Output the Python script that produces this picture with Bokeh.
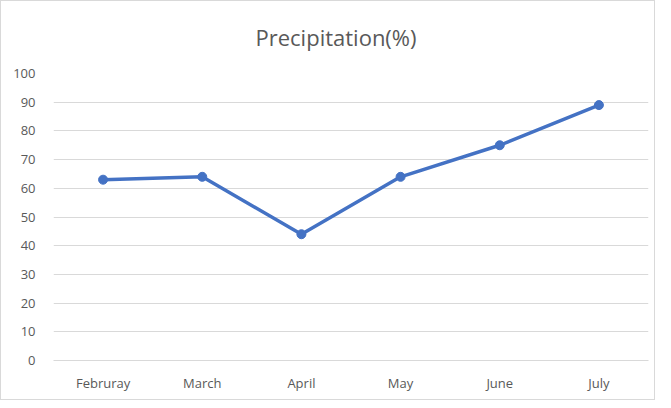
from bokeh.plotting import figure
from bokeh.embed import file_html
from bokeh.resources import INLINE
from bokeh.models import Range1d, FactorRange, FixedTicker, Title

months = ["Februray", "March", "April", "May", "June", "July"]
precip = [63, 64, 44, 64, 75, 89]
y_ticks = [0, 10, 20, 30, 40, 50, 60, 70, 80, 90, 100]

FONT = "Open Sans"
TXT = "#595959"

p = figure(width=655, height=400, x_range=FactorRange(*months, range_padding=0),
           y_range=Range1d(0, 100), output_backend="svg", toolbar_location=None,
           min_border_left=52, min_border_right=8, min_border_top=72, min_border_bottom=41)
p.styles = {"border": "1px solid #d9d9d9"}
p.outline_line_color = None
p.background_fill_color = "white"
p.border_fill_color = "white"

t = Title(text="Precipitation(%)", align="left", vertical_align="top", text_font=FONT,
          text_font_size="22px", text_font_style="normal", text_color=TXT,
          offset=202, standoff=40)
p.add_layout(t, "above")

p.line(months, precip, line_color="#4472C4", line_width=3.5)
p.scatter(months, precip, size=9, fill_color="#4472C4", line_color="#4472C4")

p.yaxis.ticker = FixedTicker(ticks=y_ticks)
p.yaxis.axis_line_color = None
p.yaxis.major_tick_line_color = None
p.yaxis.minor_tick_line_color = None
p.yaxis.major_label_text_font = FONT
p.yaxis.major_label_text_font_size = "13px"
p.yaxis.major_label_text_color = TXT
p.yaxis.major_label_standoff = 12

p.xaxis.axis_line_color = "#d9d9d9"
p.xaxis.axis_line_width = 1
p.xaxis.major_tick_line_color = None
p.xaxis.minor_tick_line_color = None
p.xaxis.major_label_text_font = FONT
p.xaxis.major_label_text_font_size = "13px"
p.xaxis.major_label_text_color = TXT
p.xaxis.major_label_standoff = 7

p.xgrid.grid_line_color = None
p.ygrid.grid_line_color = "#d9d9d9"
p.ygrid.grid_line_width = 1

open("out.html", "w").write(file_html(p, INLINE))
